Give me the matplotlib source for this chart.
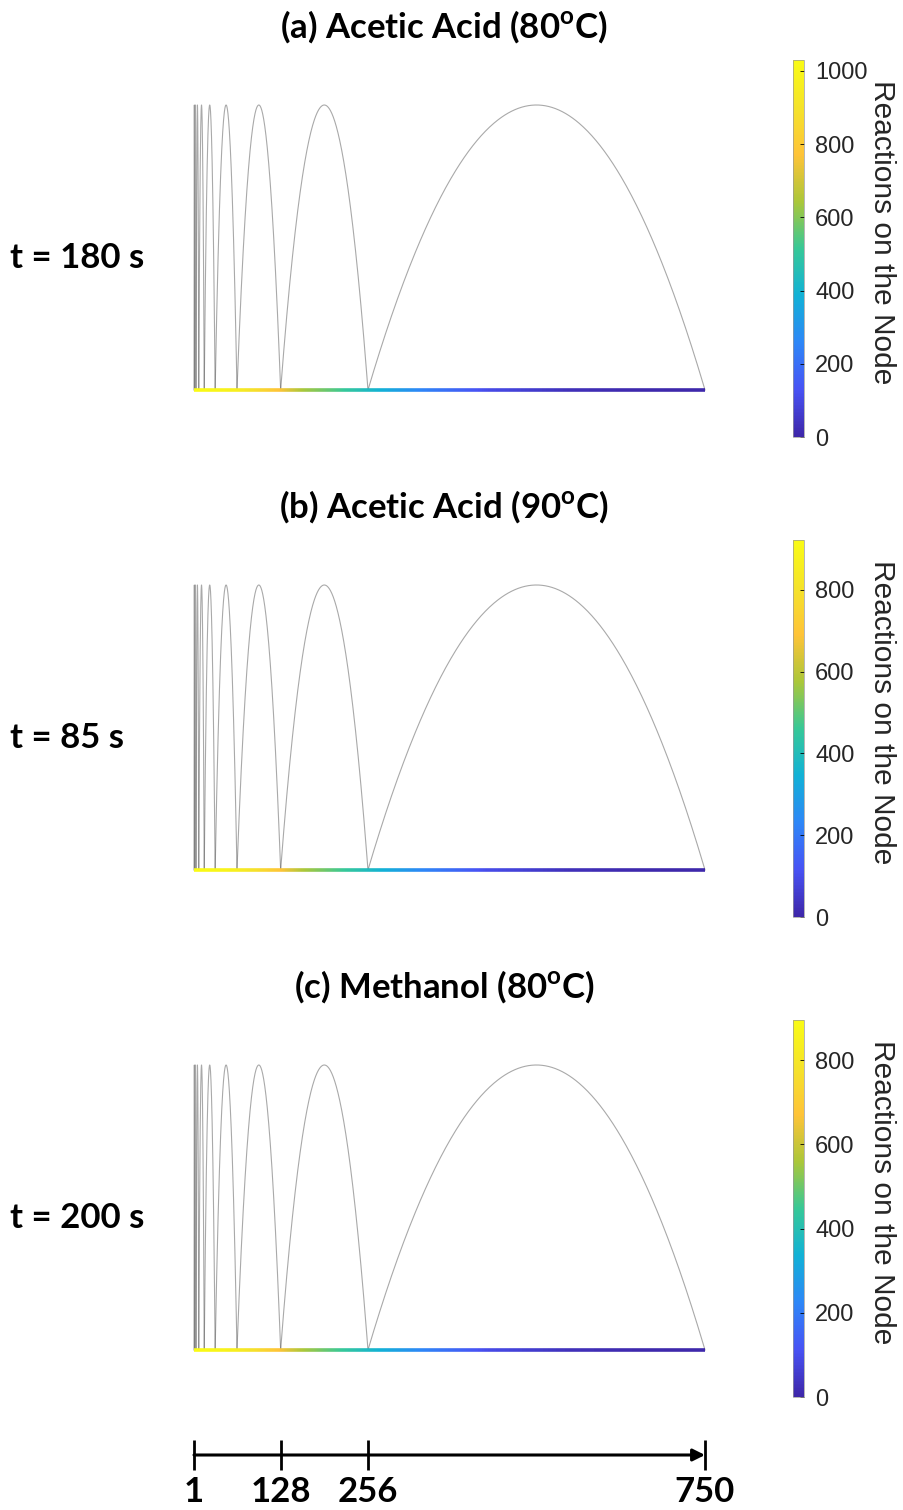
import numpy as np
import matplotlib
import matplotlib.pyplot as plt
from matplotlib.collections import LineCollection
from matplotlib.colors import LinearSegmentedColormap, Normalize
from matplotlib.cm import ScalarMappable

plt.rcParams['mathtext.fontset'] = 'custom'
plt.rcParams['mathtext.rm'] = 'Lato'
plt.rcParams['mathtext.bf'] = 'Lato:bold'

# nodes and arcs (node indices along the chain)
arc_start = [1, 2, 4, 8, 16, 32, 64, 128, 256]
arc_end = [2, 4, 8, 16, 32, 64, 128, 256, 750]
axis_ticks = [1, 128, 256, 750]

titles = ['(a) Acetic Acid (80$^{\\mathbf{o}}$C)',
          '(b) Acetic Acid (90$^{\\mathbf{o}}$C)',
          '(c) Methanol (80$^{\\mathbf{o}}$C)']
times = ['t = 180 s', 't = 85 s', 't = 200 s']

# reactions on the node
node_pos = [1, 32, 64, 96, 128, 160, 200, 256, 330, 430, 550, 650, 750]
react_a = [1030, 1000, 960, 860, 760, 640, 560, 430, 260, 110, 30, 10, 5]
react_b = [922, 900, 860, 780, 690, 580, 500, 390, 240, 100, 28, 9, 4]
react_c = [895, 870, 830, 750, 660, 560, 480, 370, 230, 95, 28, 9, 4]
react = [react_a, react_b, react_c]
cmax = [1030, 922, 895]

parula = LinearSegmentedColormap.from_list('parula', [
    (0.2422, 0.1504, 0.6603), (0.2810, 0.3228, 0.9579), (0.1786, 0.5289, 0.9682),
    (0.0689, 0.6948, 0.8394), (0.2161, 0.7843, 0.5923), (0.6720, 0.7793, 0.2227),
    (0.9970, 0.7659, 0.2199), (0.9598, 0.8887, 0.1643), (0.9769, 0.9839, 0.0805)])

W, H = 904, 1510
fig = plt.figure(figsize=(W / 100, H / 100), dpi=100)


def fx(px):
    return px / W


def fy(py):
    return 1 - py / H


bold = {'family': 'Lato', 'weight': 'bold'}

for i in range(3):
    off = 480 * i
    ax = fig.add_axes([fx(194), fy(390 + off), fx(511), 285 / H])
    ax.set_xlim(1, 750)
    ax.set_ylim(0, 1)
    ax.axis('off')

    for s, e in zip(arc_start, arc_end):
        xs = np.linspace(s, e, 400)
        c = (s + e) / 2
        r = (e - s) / 2
        ys = 1 - ((xs - c) / r) ** 2
        ax.plot(xs, ys, color='0.2', lw=0.8, alpha=0.42, clip_on=False)

    # coloured base line
    xb = np.linspace(1, 750, 1500)
    vb = np.interp(xb, node_pos, react[i])
    pts = np.column_stack([xb, np.zeros_like(xb)]).reshape(-1, 1, 2)
    segs = np.concatenate([pts[:-1], pts[1:]], axis=1)
    norm = Normalize(0, cmax[i])
    lc = LineCollection(segs, cmap=parula, norm=norm, linewidth=2.6, clip_on=False)
    lc.set_array(vb[:-1])
    ax.add_collection(lc)

    # colour bar
    cax = fig.add_axes([fx(793), fy(437 + off), fx(11), 377 / H])
    cb = fig.colorbar(ScalarMappable(norm=norm, cmap=parula), cax=cax)
    cb.set_ticks(np.arange(0, cmax[i] + 1, 200))
    cb.ax.tick_params(labelsize=17, direction='in', length=3, width=0.6, pad=8)
    for lab in cb.ax.get_yticklabels():
        lab.set_fontfamily('Liberation Sans')
        lab.set_color('0.15')
    cb.outline.set_linewidth(0.5)
    cb.outline.set_edgecolor('0.6')
    fig.text(fx(882), fy(232 + off), 'Reactions on the Node', rotation=270,
             ha='center', va='center', fontsize=21.5, family='Liberation Sans',
             color='0.15')

    fig.text(fx(444), fy(27 + off), titles[i], ha='center', va='center',
             fontsize=25, **bold)
    fig.text(fx(10), fy(258 + off), times[i], ha='left', va='center',
             fontsize=25, **bold)

# schematic node axis at the bottom
axb = fig.add_axes([fx(194), fy(1470), fx(511), 30 / H])
axb.set_xlim(1, 750)
axb.set_ylim(-1, 1)
axb.axis('off')
axb.annotate('', xy=(750, 0), xytext=(1, 0),
             arrowprops=dict(arrowstyle='-|>', color='black', lw=2.2,
                             mutation_scale=18, shrinkA=0, shrinkB=0))
axb.vlines(axis_ticks, -1, 1, color='black', lw=2, clip_on=False)
for t in axis_ticks:
    fig.text(fx(194 + (t - 1) * 511 / 749), fy(1492), str(t), ha='center',
             va='center', fontsize=25, **bold)

fig.savefig('out.png', dpi=100)
